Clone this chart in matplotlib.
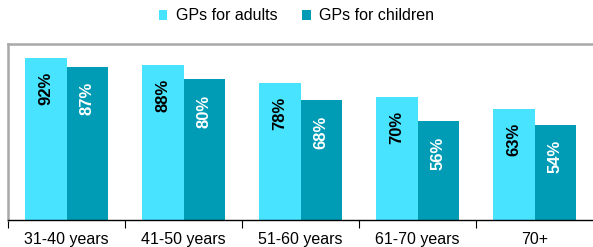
import matplotlib.pyplot as plt
import numpy as np

plt.rcParams['font.family'] = ['Liberation Sans', 'DejaVu Sans']

# data
age_groups = ['31-40 years', '41-50 years', '51-60 years', '61-70 years', '70+']
adults = [92, 88, 78, 70, 63]
children = [87, 80, 68, 56, 54]

col_adults = '#48E3FF'
col_children = '#009CB5'

fig = plt.figure(figsize=(5.93, 2.47), dpi=100)
ax = fig.add_axes([8 / 593, 27 / 247, 585 / 593, 176 / 247])

x = np.arange(len(age_groups))
w = 0.356
b1 = ax.bar(x - w / 2, adults, w, color=col_adults, label='GPs for adults')
b2 = ax.bar(x + w / 2, children, w, color=col_children, label='GPs for children')

for xi, v in zip(x - w / 2, adults):
    ax.annotate(f'{v}%', (xi, v), xytext=(0, -10), textcoords='offset points',
                rotation=90, ha='center', va='top', fontsize=12,
                fontweight='bold', color='black')
for xi, v in zip(x + w / 2, children):
    ax.annotate(f'{v}%', (xi, v), xytext=(0, -11), textcoords='offset points',
                rotation=90, ha='center', va='top', fontsize=12,
                fontweight='bold', color='white')

ax.set_xlim(-0.5, len(age_groups) - 0.5)
ax.set_ylim(0, 100)
ax.set_yticks([])
ax.set_xticks(x)
ax.set_xticklabels(age_groups, fontsize=11.5)
ax.tick_params(axis='x', which='major', length=0, pad=8.5)
ax.set_xticks(np.arange(-0.5, len(age_groups) - 0.5, 1), minor=True)
ax.tick_params(axis='x', which='minor', length=6, width=0.8, color='black')

ax.spines['top'].set_color('#a8a8a8')
ax.spines['top'].set_linewidth(1.8)
ax.spines['left'].set_color('#a8a8a8')
ax.spines['left'].set_linewidth(1.8)
ax.spines['right'].set_visible(False)
ax.spines['bottom'].set_color('black')
ax.spines['bottom'].set_linewidth(1.0)

fig.legend(handles=[b1, b2], loc='center', bbox_to_anchor=(0.5, 1 - 16 / 247),
           ncol=2, frameon=False, fontsize=11.5, handlelength=0.55,
           handleheight=0.55, handletextpad=0.55, columnspacing=1.5)

fig.savefig('out.png', dpi=100)
